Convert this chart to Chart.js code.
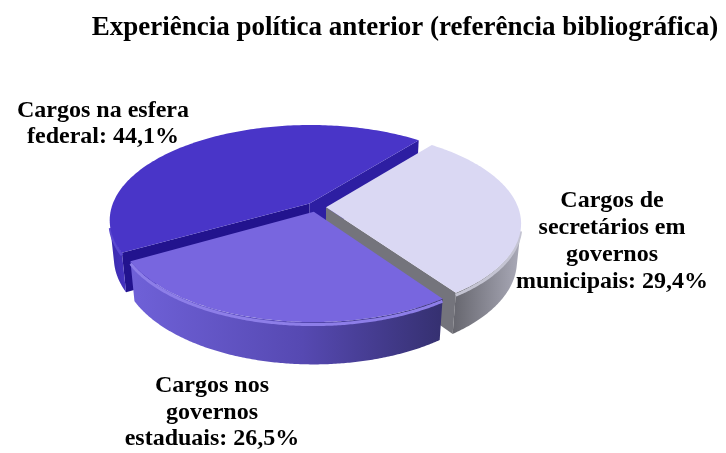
<!DOCTYPE html>
<html><head><meta charset="utf-8">
<script src="https://cdn.jsdelivr.net/npm/chart.js@4.4.1/dist/chart.umd.min.js"></script>
<style>html,body{margin:0;padding:0;background:#fff;} canvas{display:block;}</style>
</head><body>
<canvas id="c" width="726" height="453"></canvas>
<script>
// ---- data ----
const chartTitle = 'Experiência política anterior (referência bibliográfica)';
const categories = ['Cargos de secretários em governos municipais', 'Cargos nos governos estaduais', 'Cargos na esfera federal'];
const values = [29.4, 26.5, 44.1];
const labelLines = [
  ['Cargos de', 'secretários em', 'governos', 'municipais:'],
  ['Cargos nos', 'governos', 'estaduais:'],
  ['Cargos na esfera', 'federal:']
];

// ---- styles ----
const topColors = ['#DAD8F3', '#7866DF', '#4935C8'];
const wallStops = [
  [[0, '#66666e'], [1, '#aaaab8']],
  [[0, '#6f61d8'], [0.55, '#5649b2'], [1, '#353070']],
  [[0, '#3a2aae'], [1, '#4533c0']]
];
const rimColors = ['#c4c4d2', '#8d7ee8', '#5a48d0'];
const startFaceColors = ['#6e6e78', '#4a3db0', '#22138e'];
const endFaceColors = ['#74747c', '#4a3db0', '#2d1ea2'];
const labelPos = [
  {x: 612, y: 207, lh: 27},
  {x: 212, y: 392, lh: 26.5},
  {x: 103, y: 117, lh: 26}
];
const VIEW = {cx: 316, cy: 207, f: 1008, D: 1005, tilt: 28.07 * Math.PI / 180, depth: 43};
const TAU = Math.PI * 2;

function project(u, v, h) {
  const s = Math.sin(VIEW.tilt), c = Math.cos(VIEW.tilt);
  const Yc = v * s + h * c, Zc = VIEW.D - v * c + h * s;
  return [VIEW.cx + VIEW.f * u / Zc, VIEW.cy + VIEW.f * Yc / Zc];
}
const vCam = VIEW.D * Math.cos(VIEW.tilt);
const proto = CanvasRenderingContext2D.prototype;

function sliceGeo(el) {
  const off = (el.options.offset || 0) / 4;
  const circ = el.endAngle - el.startAngle;
  const half = (el.startAngle + el.endAngle) / 2;
  const fix = 1 - Math.sin(Math.min(Math.PI, circ || 0));
  const rOff = off * fix;
  const R = el.outerRadius + rOff;
  const beta = Math.max(0.001, circ * R - rOff / Math.PI) / R;
  const ao = (circ - beta) / 2;
  return {ux: Math.cos(half) * off, uy: Math.sin(half) * off, R, a0: el.startAngle + ao, a1: el.endAngle - ao, half};
}

function pathPoly(ctx, pts, close) {
  proto.beginPath.call(ctx);
  pts.forEach((p, i) => i ? proto.lineTo.call(ctx, p[0], p[1]) : proto.moveTo.call(ctx, p[0], p[1]));
  if (close) proto.closePath.call(ctx);
}
function fillPoly(ctx, pts, style) {
  pathPoly(ctx, pts, true);
  ctx.fillStyle = style;
  proto.fill.call(ctx);
}

const pie3d = {
  id: 'pie3d',
  beforeDatasetsDraw(chart) {
    const ctx = chart.ctx;
    const els = chart.getDatasetMeta(0).data;
    const ox = els[0].x, oy = els[0].y;
    const H = VIEW.depth;
    const idx = els.map((e, i) => i).sort((a, b) => Math.sin(sliceGeo(els[a]).half) - Math.sin(sliceGeo(els[b]).half));
    idx.forEach(i => {
      const g = sliceGeo(els[i]);
      const P = (a, h) => project(g.ux + g.R * Math.cos(a), g.uy + g.R * Math.sin(a), h);
      const C = h => project(g.ux, g.uy, h);
      // radial faces
      const nS = -g.ux * Math.sin(g.a0) + (vCam - g.uy) * (-Math.cos(g.a0));
      if (nS > 0) fillPoly(ctx, [C(0), P(g.a0, 0), P(g.a0, H), C(H)], startFaceColors[i]);
      const nE = g.ux * Math.sin(g.a1) + (vCam - g.uy) * Math.cos(g.a1);
      if (nE > 0) fillPoly(ctx, [C(0), P(g.a1, 0), P(g.a1, H), C(H)], endFaceColors[i]);
      // outer wall, visible runs
      const step = Math.PI / 360;
      const n = Math.ceil((g.a1 - g.a0) / step);
      let run = [];
      const flush = () => {
        if (run.length > 1) {
          const top = run.map(a => P(a, 0));
          const bot = run.map(a => P(a, H)).reverse();
          const pts = top.concat(bot);
          const xs = pts.map(p => p[0]);
          const gr = ctx.createLinearGradient(Math.min(...xs), 0, Math.max(...xs), 0);
          wallStops[i].forEach(s => gr.addColorStop(s[0], s[1]));
          fillPoly(ctx, pts, gr);
          // bevel highlight along the rim
          pathPoly(ctx, run.map(a => P(a, 2.5)), false);
          ctx.strokeStyle = rimColors[i];
          ctx.lineWidth = 3;
          proto.stroke.call(ctx);
        }
        run = [];
      };
      for (let k = 0; k <= n; k++) {
        const a = Math.min(g.a0 + k * step, g.a1);
        const px = g.ux + g.R * Math.cos(a), py = g.uy + g.R * Math.sin(a);
        const vis = (-px) * Math.cos(a) + (vCam - py) * Math.sin(a) > 0;
        if (vis) run.push(a); else flush();
      }
      flush();
    });
    // project the library's own arc paths onto the tilted plane
    let tx = 0, ty = 0; const stack = [];
    const map = (x, y) => project(x + tx - ox, y + ty - oy, 0);
    ctx.save = function () { stack.push([tx, ty]); proto.save.call(ctx); };
    ctx.restore = function () { const s = stack.pop(); if (s) { tx = s[0]; ty = s[1]; } proto.restore.call(ctx); };
    ctx.translate = function (x, y) { tx += x; ty += y; };
    ctx.moveTo = function (x, y) { const p = map(x, y); proto.moveTo.call(ctx, p[0], p[1]); };
    ctx.lineTo = function (x, y) { const p = map(x, y); proto.lineTo.call(ctx, p[0], p[1]); };
    ctx.arc = function (x, y, r, a0, a1, ccw) {
      let da = a1 - a0;
      if (!ccw) { if (da < 0) da = (da % TAU) + TAU; if (da > TAU) da = TAU; }
      else { if (da > 0) da = (da % TAU) - TAU; if (da < -TAU) da = -TAU; }
      const m = Math.max(2, Math.ceil(Math.abs(da) / (Math.PI / 180)));
      for (let k = 0; k <= m; k++) {
        const a = a0 + da * k / m;
        const p = map(x + r * Math.cos(a), y + r * Math.sin(a));
        proto.lineTo.call(ctx, p[0], p[1]);
      }
    };
  },
  afterDatasetsDraw(chart) {
    const ctx = chart.ctx;
    ['save', 'restore', 'translate', 'moveTo', 'lineTo', 'arc'].forEach(k => { delete ctx[k]; });
  },
  afterDraw(chart) {
    const ctx = chart.ctx;
    ctx.save();
    ctx.font = 'bold 24px "Liberation Serif", "Times New Roman", serif';
    ctx.fillStyle = '#000';
    ctx.textAlign = 'center';
    ctx.textBaseline = 'alphabetic';
    values.forEach((v, i) => {
      const lines = labelLines[i].slice();
      lines[lines.length - 1] += ' ' + v.toFixed(1).replace('.', ',') + '%';
      const p = labelPos[i];
      lines.forEach((t, j) => ctx.fillText(t, p.x, p.y + j * p.lh));
    });
    ctx.restore();
  }
};

new Chart(document.getElementById('c'), {
  type: 'pie',
  data: {
    labels: categories,
    datasets: [{
      data: values,
      backgroundColor: topColors,
      borderWidth: 0,
      offset: 40,
      clip: false
    }]
  },
  options: {
    responsive: false,
    animation: false,
    events: [],
    rotation: 39,
    radius: 191,
    layout: {padding: {left: 84}},
    plugins: {
      legend: {display: false},
      tooltip: {enabled: false},
      title: {
        display: true,
        text: chartTitle,
        color: '#000',
        font: {family: '"Liberation Serif", "Times New Roman", serif', size: 27, weight: 'bold'},
        padding: {top: 12, bottom: 0}
      }
    }
  },
  plugins: [pie3d]
});
</script>
</body></html>
